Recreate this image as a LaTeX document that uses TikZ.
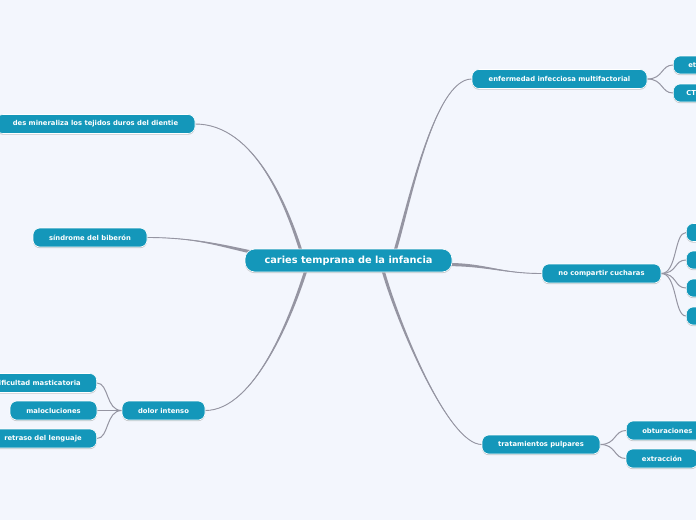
\documentclass[tikz,border=0pt]{standalone}
\usepackage{fontspec}
\setmainfont{DejaVu Sans}
\usetikzlibrary{shadows,calc,backgrounds}
\definecolor{bg}{HTML}{F3F6FD}
\definecolor{nodefill}{HTML}{1497BA}
\definecolor{conn}{HTML}{9595A2}
% tapered branch: #1 start node anchor, #2 control offset from start,
% #3 control offset from end, #4 end point, #5 half-width vector at the end
\newcommand\tbranch[5]{%
  \fill[conn] (#1) .. controls ($(#1)+(#2)$) and ($(#4)+(#3)+(#5)$) .. ($(#4)+(#5)$)
     -- ($(#4)-(#5)$) .. controls ($(#4)+(#3)-(#5)$) and ($(#1)+(#2)$) .. (#1) -- cycle;
  \draw[conn, line width=0.9pt] (#1) .. controls ($(#1)+(#2)$) and ($(#4)+(#3)$) .. (#4);}
\begin{document}
\begin{tikzpicture}[x=1pt,y=-1pt,
  topic/.style={rounded corners=7pt, fill=nodefill, draw=white, line width=0.6pt,
    text=white, font=\bfseries\fontsize{6.8}{8}\selectfont, minimum height=19pt,
    inner xsep=0pt, inner ysep=0pt,
    drop shadow={shadow xshift=0pt, shadow yshift=-1.2pt, fill=black!40, opacity=0.5}},
  central/.style={topic, rounded corners=10pt, minimum height=23pt,
    font=\bfseries\fontsize{9.8}{11}\selectfont},
  sub/.style={draw=conn, line width=1pt}]
\useasboundingbox (0,0) rectangle (696,520);

\path
  node[central, minimum width=207pt] (c) at (348.5,260.5) {caries temprana de la infancia}
  node[topic, minimum width=175pt] (enf) at (559.5,79) {enfermedad infecciosa multifactorial}
  node[topic, anchor=west, minimum height=18pt, text width=50pt, inner xsep=15pt, align=left] (et) at (673,65) {et}
  node[topic, anchor=west, minimum height=18pt, text width=50pt, inner xsep=13pt, align=left] (ct) at (673,93) {CT}
  node[topic, minimum width=199pt] (des) at (95.5,124) {des mineraliza los tejidos duros del dientie}
  node[topic, minimum width=114pt] (sin) at (90,237.5) {síndrome del biberón}
  node[topic, minimum width=119pt] (nc) at (601.5,273.5) {no compartir cucharas}
  node[topic, anchor=west, minimum width=40pt, minimum height=18pt] (n1) at (686,232.5) {}
  node[topic, anchor=west, minimum width=40pt, minimum height=18pt] (n2) at (686,260) {}
  node[topic, anchor=west, minimum width=40pt, minimum height=18pt] (n3) at (686,288) {}
  node[topic, anchor=west, minimum width=40pt, minimum height=18pt] (n4) at (686,316) {}
  node[topic, minimum width=83pt] (dol) at (163.5,410.5) {dolor intenso}
  node[topic, anchor=east, inner xsep=16pt] (dif) at (97,383) {dificultad masticatoria}
  node[topic, minimum width=87pt] (mal) at (53.5,410.5) {malocluciones}
  node[topic, anchor=east, inner xsep=15pt] (ret) at (97,438.5) {retraso del lenguaje}
  node[topic, minimum width=118pt] (tra) at (541,444.5) {tratamientos pulpares}
  node[topic, anchor=west, text width=70pt, inner xsep=16pt, align=left] (obt) at (626,430.5) {obturaciones}
  node[topic, minimum width=72pt] (ext) at (662,458.5) {extracción};

\begin{pgfonlayer}{background}
\fill[bg] (0,0) rectangle (696,520);
\coordinate (eDes) at ($(c.north)+(-47,4)$);
\coordinate (eSin) at ($(c.north west)+(10,4)$);
\coordinate (eDol) at ($(c.south)+(-42,-4)$);
\coordinate (eEnf) at ($(c.north)+(46,4)$);
\coordinate (eNc)  at ($(c.east)+(-6,4)$);
\coordinate (eTra) at ($(c.south)+(34,-4)$);
% main branches (tapered towards the central topic)
\tbranch{des.east}{60,0}{-14,-45}{eDes}{1.6,0}
\tbranch{sin.east}{50,0}{-30,-6}{eSin}{0,1.6}
\tbranch{dol.east}{50,0}{-14,45}{eDol}{1.6,0}
\tbranch{enf.west}{-38,0}{14,-45}{eEnf}{1.6,0}
\tbranch{nc.west}{-40,0}{40,0}{eNc}{0,1.6}
\tbranch{tra.west}{-35,0}{12,45}{eTra}{1.6,0}
% sub branches
\draw[sub] (enf.east) .. controls +(16,0) and +(-12,0) .. (et.west);
\draw[sub] (enf.east) .. controls +(16,0) and +(-12,0) .. (ct.west);
\foreach \n in {n1,n2,n3,n4}
  \draw[sub] (nc.east) .. controls +(16,0) and +(-12,0) .. (\n.west);
\foreach \n in {dif,mal,ret}
  \draw[sub] (dol.west) .. controls +(-16,0) and +(12,0) .. (\n.east);
\foreach \n in {obt,ext}
  \draw[sub] (tra.east) .. controls +(16,0) and +(-12,0) .. (\n.west);
\end{pgfonlayer}
\end{tikzpicture}
\end{document}
